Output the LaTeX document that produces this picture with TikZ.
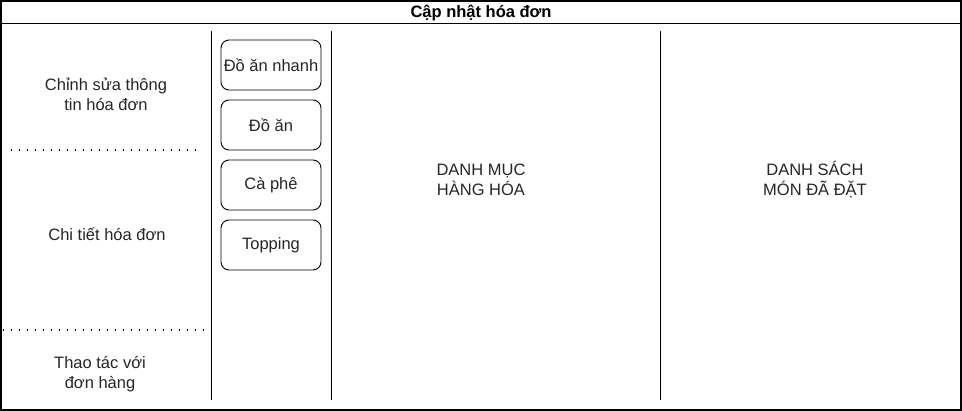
\documentclass[tikz,border=0pt]{standalone}
\usepackage{fontspec}
\setmainfont{Liberation Sans}
\begin{document}
\begin{tikzpicture}[x=1pt,y=-1pt,
  txt/.style={font=\fontsize{16.5}{20}\selectfont, align=center, text=black!85, inner sep=0pt},
  cat/.style={draw, rounded corners=8pt, minimum width=100pt, minimum height=50pt, line width=0.9pt, font=\fontsize{16.5}{20}\selectfont, text=black!85, inner sep=0pt},
  sep/.style={line width=1pt},
  dotline/.style={line width=1.3pt, dash pattern=on 1.3pt off 6.7pt}]
\useasboundingbox (0,0) rectangle (962,411);
\path[fill=white] (0,0) rectangle (962,411);
\draw[line width=1.2pt] (1,1) rectangle (961,410);
\draw[sep] (1,24) -- (961,24);
\node[font=\fontsize{16.5}{20}\selectfont\bfseries, inner sep=0pt] (title) at (481,13.5) {Cập nhật hóa đơn};
% vertical separators
\coordinate (v1t) at (211,31); \coordinate (v1b) at (211,400);
\coordinate (v2t) at (331,31); \coordinate (v2b) at (331,400);
\coordinate (v3t) at (660,31); \coordinate (v3b) at (660,400);
\draw[sep] (v1t) -- (v1b);
\draw[sep] (v2t) -- (v2b);
\draw[sep] (v3t) -- (v3b);
% dotted lines
\coordinate (d1a) at (11,150); \coordinate (d1b) at (200,150);
\coordinate (d2a) at (3,330); \coordinate (d2b) at (211,330);
\draw[dotline] (d1a) -- (d1b);
\draw[dotline] (d2a) -- (d2b);
% left texts
\node[txt] (edit) at (106,94) {Chỉnh sửa thông\\tin hóa đơn};
\node[txt] (detail) at (107,234) {Chi tiết hóa đơn};
\node[txt] (ops) at (100,374) {Thao tác với\\đơn hàng};
% category buttons
\node[cat] (b1) at (271,65) {Đồ ăn nhanh};
\node[cat] (b2) at (271,125) {Đồ ăn};
\node[cat] (b3) at (271,185) {Cà phê};
\node[cat] (b4) at (271,245) {Topping};
% columns
\node[txt] (goods) at (481,180) {DANH MỤC\\HÀNG HÓA};
\node[txt] (ordered) at (815,180) {DANH SÁCH\\MÓN ĐÃ ĐẶT};
\end{tikzpicture}
\end{document}
